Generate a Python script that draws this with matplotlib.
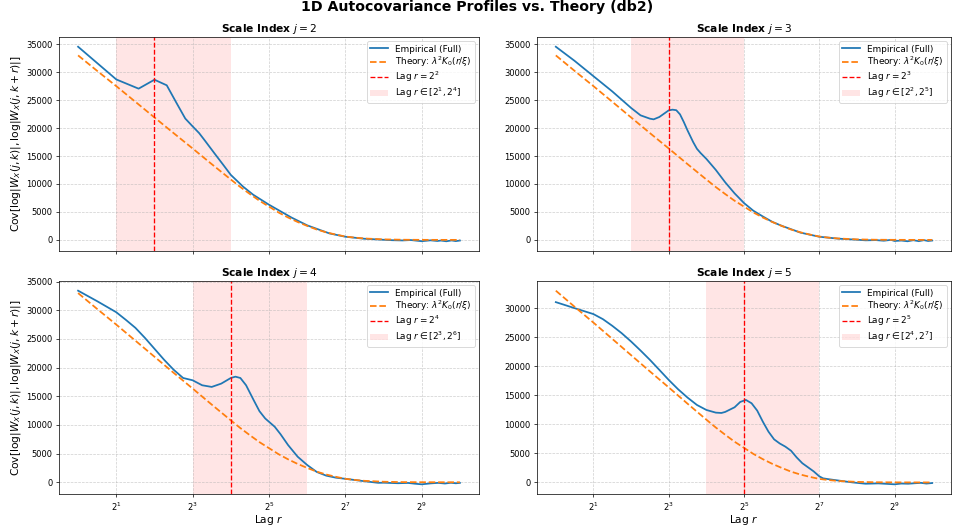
import numpy as np
import matplotlib
matplotlib.use("Agg")
import matplotlib.pyplot as plt
from matplotlib.ticker import FixedLocator, LogFormatterMathtext, NullLocator

# ---------------- data ----------------
theory_lags = [1, 1.41, 2, 2.83, 4, 5.66, 8, 11.31, 16, 19.03, 22.63, 26.91, 32, 38.05,
               45.25, 53.82, 64, 76.11, 90.51, 107.6, 128, 152.2, 181.0, 256, 362, 512, 724, 1024]
theory_vals = [33000, 30250, 27500, 24700, 21900, 19100, 16350, 13550, 10800, 9450, 8200, 7000,
               5950, 4900, 4000, 3200, 2500, 1850, 1350, 950, 600, 400, 250, 90, 25, 5, 0, 0]

emp_lags_j2 = [1, 2, 3, 4, 5, 6, 7, 8, 9, 10, 12, 14, 16, 20, 24, 32, 48, 64, 96, 128, 181,
               256, 300, 362, 420, 512, 600, 680, 724, 800, 880, 950, 1024]
emp_vals_j2 = [34550, 28700, 27050, 28650, 27650, 24400, 21700, 20300, 19100, 17750, 15360,
               13370, 11620, 9520, 8080, 6290, 4010, 2600, 1150, 560, 200, 20, -60, -100, -30,
               -240, -80, -200, -120, -250, -100, -220, -120]

emp_lags_j3 = [1, 1.41, 2, 2.83, 4, 4.76, 5.66, 6.06, 6.73, 8, 8.57, 9.19, 9.85, 10.56, 11.31,
               12.55, 13.45, 14.42, 16, 19.03, 22.63, 26.91, 32, 38.05, 45.25, 53.82, 64, 90.5,
               128, 181, 256, 300, 362, 420, 480, 512, 580, 650, 724, 800, 880, 950, 1024]
emp_vals_j3 = [34550, 32040, 29280, 26550, 23600, 22280, 21680, 21560, 21980, 23170, 23290,
               23200, 22450, 21080, 19580, 17490, 16290, 15510, 14490, 12520, 10300, 8320, 6590,
               5210, 4190, 3230, 2520, 1300, 560, 220, 30, -80, -40, -150, 0, -200, -120, -250,
               -60, -230, -50, -200, -120]

emp_lags_j4 = [1, 1.41, 2, 2.38, 2.83, 3.36, 4, 4.76, 5.66, 6.73, 8, 9.51, 11.31, 13.45, 16,
               17.39, 19.03, 21.11, 24.25, 26.91, 29.86, 32, 35.5, 39.4, 45.25, 53.82, 64, 76.1,
               90.5, 107.6, 128, 181, 232, 256, 333, 400, 450, 512, 600, 690, 780, 870, 950, 1024]
emp_vals_j4 = [33420, 31600, 29660, 28330, 26940, 25200, 23290, 21380, 19640, 18190, 17790,
               16920, 16630, 17210, 18190, 18420, 18190, 16920, 14310, 12400, 11130, 10550, 9680,
               8400, 6490, 4460, 3010, 1800, 1150, 800, 600, 180, -100, -80, -170, -120, -250,
               -360, -200, -110, -220, -90, -180, -110]

emp_lags_j5 = [1, 1.41, 2, 2.38, 2.83, 3.36, 4, 4.76, 5.66, 6.73, 8, 9.51, 11.31, 13.45, 16,
               19.03, 21.11, 22.63, 26.91, 29.86, 33.1, 36.8, 40.8, 45.25, 50.2, 55.7, 61.8,
               68.6, 76.1, 84.4, 93.7, 104, 115.4, 128, 137.2, 152.2, 181, 235.6, 300.2, 380,
               450, 512, 580, 657, 740, 832, 920, 1024]
emp_vals_j5 = [31030, 30000, 28970, 28100, 26950, 25690, 24250, 22700, 21090, 19370, 17640,
               16030, 14600, 13330, 12470, 12010, 11950, 12130, 12930, 13850, 14200, 13620,
               12360, 10460, 8740, 7410, 6700, 6150, 5450, 4300, 3300, 2600, 1900, 1050, 700,
               550, 330, 0, -230, -170, -260, -330, -200, -230, -150, -80, -200, -110]

scales = [2, 3, 4, 5]
emp_lags = [emp_lags_j2, emp_lags_j3, emp_lags_j4, emp_lags_j5]
emp_vals = [emp_vals_j2, emp_vals_j3, emp_vals_j4, emp_vals_j5]
xtick_vals = [2, 8, 32, 128, 512]

# ---------------- figure ----------------
DPI = 955 / 15.0
fig, axes = plt.subplots(2, 2, figsize=(15, 530 / DPI), dpi=DPI, sharex=True)

positions = [
    [59 / 955, 1 - 251 / 530, (479 - 59) / 955, (251 - 37) / 530],
    [537 / 955, 1 - 251 / 530, (951 - 537) / 955, (251 - 37) / 530],
    [59 / 955, 1 - 494 / 530, (479 - 59) / 955, (494 - 281) / 530],
    [537 / 955, 1 - 494 / 530, (951 - 537) / 955, (494 - 281) / 530],
]

for idx, ax in enumerate(axes.flat):
    j = scales[idx]
    ax.set_position(positions[idx])
    ax.plot(emp_lags[idx], emp_vals[idx], color='C0', lw=2, label='Empirical (Full)')
    ax.plot(theory_lags, theory_vals, color='C1', lw=2, ls='--',
            label=r'Theory: $\lambda^2 K_0(r/\xi)$')
    ax.axvline(2 ** j, color='red', ls='--', lw=1.5, label=rf'Lag $r = 2^{{{j}}}$')
    ax.axvspan(2 ** (j - 1), 2 ** (j + 2), color='red', alpha=0.1, lw=0,
               label=rf'Lag $r \in [2^{{{j-1}}}, 2^{{{j+2}}}]$')
    ax.set_xscale('log', base=2)
    ax.xaxis.set_major_locator(FixedLocator(xtick_vals))
    ax.xaxis.set_major_formatter(LogFormatterMathtext(base=2))
    ax.xaxis.set_minor_locator(NullLocator())
    ax.tick_params(labelsize=9.5)
    ax.grid(True, ls='--', alpha=0.6)
    ax.set_title(rf'Scale Index $j = {j}$', fontsize=12, fontweight='bold')
    ax.legend(loc='upper right', labelspacing=0.12, borderpad=0.35)
    if idx % 2 == 0:
        ax.set_ylabel(r'Cov$[\log|W_X(j,k)|, \log|W_X(j,k+r)|]$', fontsize=12)
    if idx >= 2:
        ax.set_xlabel(r'Lag $r$', fontsize=12, labelpad=1)

fig.suptitle('1D Autocovariance Profiles vs. Theory (db2)', fontsize=16,
             fontweight='bold', y=1.0)
fig.savefig('out.png', dpi=DPI)
